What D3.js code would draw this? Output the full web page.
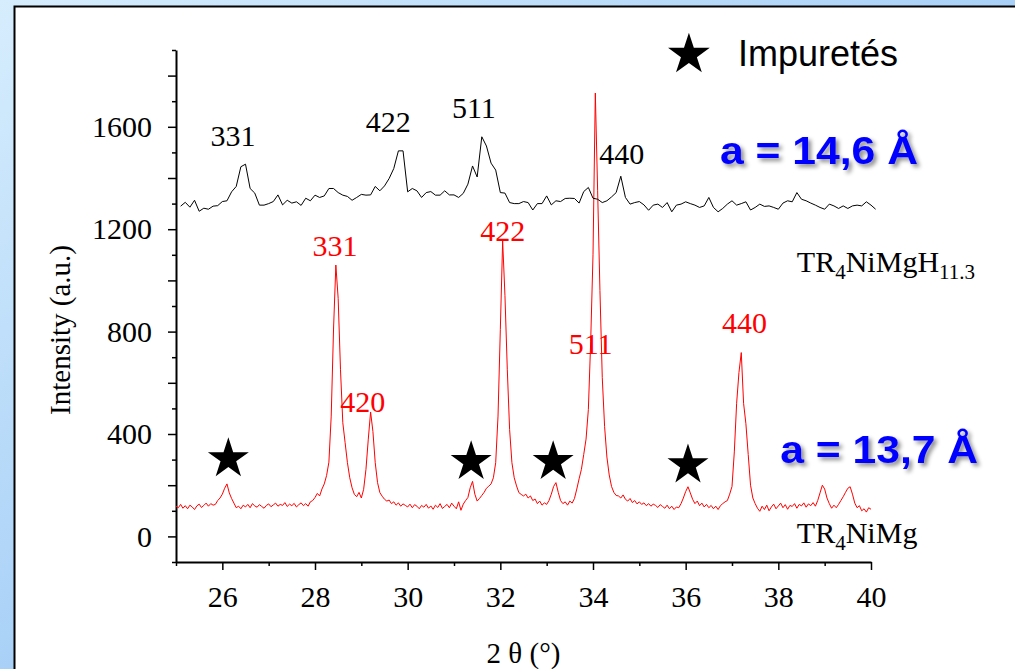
<!DOCTYPE html>
<html>
<head>
<meta charset="utf-8">
<script src="https://cdn.jsdelivr.net/npm/d3@7/dist/d3.min.js"></script>
<style>
  html, body { margin: 0; padding: 0; background: #fff; }
  svg { display: block; }
</style>
</head>
<body>
<div id="graph-content"></div>
<script>
// x axis: 2 theta (deg), y axis: intensity (a.u.)
const xTickValues = [26, 28, 30, 32, 34, 36, 38, 40];
const yTickValues = [0, 400, 800, 1200, 1600];

// TR4NiMg pattern (red), one count every 0.05 deg from 25.00
const alloyStart = 25.0;
const alloyStep = 0.05;
const alloyCounts = [
  118,112,125,110,120,108,122,115,105,119,
  126,113,121,130,118,128,122,125,140,150,
  165,188,205,170,148,130,112,118,108,122,
  115,125,112,128,119,114,124,117,110,121,
  127,116,123,130,118,125,121,132,117,126,
  120,129,115,124,131,120,128,118,135,140,
  152,168,158,185,205,238,290,470,810,1060,
  930,653,444,366,288,229,190,164,155,172,
  150,184,262,380,486,410,288,210,171,157,
  145,138,142,128,135,122,131,118,127,121,
  115,126,112,124,118,108,121,114,125,110,
  119,106,122,113,128,109,117,125,112,130,
  118,108,135,102,126,140,152,190,215,165,
  138,148,160,172,188,196,205,229,288,470,
  809,1154,940,653,418,288,229,197,171,164,
  158,165,150,158,140,146,128,138,122,131,
  125,140,165,195,210,172,140,128,135,122,
  138,130,148,185,225,262,320,380,496,760,
  1100,1732,1350,960,620,430,310,240,195,172,
  160,158,150,162,145,138,148,132,140,127,
  135,125,131,120,128,118,126,121,113,124,
  117,110,122,108,118,105,115,112,128,150,
  175,194,170,145,128,138,120,130,115,125,
  112,121,108,118,105,120,128,135,140,165,
  195,330,520,640,718,520,440,320,200,150,
  128,110,98,118,105,122,100,115,126,108,
  119,130,112,124,106,121,117,128,110,125,
  119,131,114,127,120,132,118,140,170,200,
  185,150,128,110,122,112,125,140,155,172,
  188,194,165,130,112,120,100,108,95,112,
  106
];

// TR4NiMgH11.3 pattern (black), one count every 0.1 deg from 25.1
const hydrideStart = 25.1;
const hydrideStep = 0.1;
const hydrideCounts = [
  1290,1305,1286,1313,1270,1282,1278,1290,1292,1308,
  1311,1346,1367,1444,1454,1359,1341,1294,1294,1300,
  1308,1334,1295,1313,1302,1307,1293,1321,1311,1333,
  1324,1330,1359,1359,1343,1333,1328,1313,1324,1336,
  1333,1334,1367,1350,1369,1398,1437,1506,1506,1346,
  1359,1350,1324,1343,1347,1333,1333,1350,1334,1334,
  1324,1340,1376,1447,1404,1561,1525,1458,1431,1343,
  1341,1304,1300,1300,1308,1304,1275,1300,1300,1330,
  1295,1311,1308,1320,1321,1320,1302,1347,1363,1321,
  1317,1304,1311,1326,1343,1407,1324,1298,1304,1308,
  1295,1274,1294,1298,1285,1304,1268,1294,1298,1307,
  1300,1294,1285,1291,1324,1285,1268,1281,1298,1311,
  1294,1300,1307,1275,1285,1298,1289,1291,1285,1278,
  1302,1311,1307,1343,1317,1311,1302,1294,1285,1278,
  1298,1291,1281,1291,1281,1291,1294,1291,1307,1294,
  1278
];

// hkl indexing of the peaks (label anchor in 2theta / intensity)
const hydrideHkl = ["331", "422", "511", "440"];
const hydrideHklX = [26.23, 29.58, 31.43, 34.62];
const hydrideHklY = [1526, 1578, 1633, 1454];

const alloyHkl = ["331", "420", "422", "511", "440"];
const alloyHklX = [28.43, 29.03, 32.05, 33.95, 37.27];
const alloyHklY = [1094, 486, 1153, 711, 796];

// impurity peaks marked with a star
const impurityX = [26.13, 31.37, 33.14, 36.05];
const impurityY = [303, 292, 292, 279];

const latticeText = ["a = 14,6 Å", "a = 13,7 Å"];
const latticeX = [36.74, 38.04];
const latticeY = [1454, 288];

const legendText = "Impuretés";

let margin = {top: 50, right: 144, bottom: 107, left: 176}
  , fullWidth = 1015, fullHeight = 669
  , width = fullWidth - margin.left - margin.right
  , height = fullHeight - margin.top - margin.bottom;

let serif = "'Liberation Serif', 'Times New Roman', serif";
let sans = "'Liberation Sans', Arial, sans-serif";

let xScale = d3.scaleLinear().domain([25, 40]).range([0, width]);
let yScale = d3.scaleLinear().domain([-100, 1900]).range([height, 0]);

let alloyData = alloyCounts.map((c, i) => ({x: alloyStart + i * alloyStep, y: c}));
let hydrideData = hydrideCounts.map((c, i) => ({x: hydrideStart + i * hydrideStep, y: c}));

let line = d3.line()
  .x(d => xScale(d.x))
  .y(d => yScale(d.y));

let root = d3.select("#graph-content").append("svg")
  .attr("width", fullWidth)
  .attr("height", fullHeight);

let defs = root.append("defs");
let grad = defs.append("linearGradient").attr("id", "bg")
  .attr("x1", 0).attr("y1", 0).attr("x2", 1).attr("y2", 1);
grad.append("stop").attr("offset", "0%").attr("stop-color", "#d6edfd");
grad.append("stop").attr("offset", "50%").attr("stop-color", "#a9d1f7");
grad.append("stop").attr("offset", "100%").attr("stop-color", "#7db6ee");

let shadow = defs.append("filter").attr("id", "shadow")
  .attr("x", "-10%").attr("y", "-30%").attr("width", "130%").attr("height", "170%");
shadow.append("feDropShadow")
  .attr("dx", 3).attr("dy", 3).attr("stdDeviation", 2)
  .attr("flood-color", "#000").attr("flood-opacity", 0.45);

// blue frame and white panel
root.append("rect").attr("width", fullWidth).attr("height", fullHeight).attr("fill", "url(#bg)");
root.append("rect")
  .attr("x", 14.5).attr("y", 6.5)
  .attr("width", fullWidth + 20).attr("height", fullHeight + 20)
  .attr("fill", "#fff").attr("stroke", "#000").attr("stroke-width", 2);

let svg = root.append("g")
  .attr("transform", "translate(" + margin.left + "," + margin.top + ")");

// x axis
let xAxis = svg.append("g")
  .attr("transform", "translate(0," + height + ")")
  .call(d3.axisBottom(xScale)
    .tickValues(d3.range(25, 41, 1))
    .tickSizeOuter(0)
    .tickFormat(d => xTickValues.includes(d) ? d : ""));
xAxis.select(".domain").attr("stroke-width", 2);
xAxis.selectAll(".tick line")
  .attr("stroke-width", 1.5)
  .attr("y2", d => d % 2 === 0 ? 8 : 4);
xAxis.selectAll(".tick text")
  .attr("y", 24)
  .attr("font-family", serif)
  .attr("font-size", 30)
  .attr("fill", "#000");

// y axis
let yAxis = svg.append("g")
  .call(d3.axisLeft(yScale)
    .tickValues(d3.range(-100, 2000, 100))
    .tickSizeOuter(0)
    .tickFormat(d => yTickValues.includes(d) ? d : ""));
yAxis.select(".domain").attr("stroke-width", 2);
yAxis.selectAll(".tick line")
  .attr("stroke-width", 1.5)
  .attr("x2", d => d % 200 === 0 ? -8 : -4);
yAxis.selectAll(".tick text")
  .attr("x", -24)
  .attr("font-family", serif)
  .attr("font-size", 30)
  .attr("fill", "#000");

// axis titles
svg.append("text")
  .attr("transform", "translate(" + (-106) + "," + 280 + ") rotate(-90)")
  .attr("text-anchor", "middle")
  .attr("font-family", serif)
  .attr("font-size", 29)
  .text("Intensity (a.u.)");

svg.append("text")
  .attr("x", width / 2)
  .attr("y", height + 101)
  .attr("text-anchor", "middle")
  .attr("font-family", serif)
  .attr("font-size", 29)
  .text("2 θ (°)");

// patterns
svg.append("path")
  .datum(alloyData)
  .attr("fill", "none")
  .attr("stroke", "#ff0000")
  .attr("stroke-width", 1)
  .attr("d", line);

svg.append("path")
  .datum(hydrideData)
  .attr("fill", "none")
  .attr("stroke", "#000")
  .attr("stroke-width", 1)
  .attr("d", line);

// hkl labels
svg.selectAll(".hkl-h")
  .data(hydrideHkl)
  .enter().append("text")
  .attr("class", "hkl-h")
  .attr("x", (d, i) => xScale(hydrideHklX[i]))
  .attr("y", (d, i) => yScale(hydrideHklY[i]))
  .attr("text-anchor", "middle")
  .attr("font-family", serif)
  .attr("font-size", 30)
  .attr("fill", "#000")
  .text(d => d);

svg.selectAll(".hkl-a")
  .data(alloyHkl)
  .enter().append("text")
  .attr("class", "hkl-a")
  .attr("x", (d, i) => xScale(alloyHklX[i]))
  .attr("y", (d, i) => yScale(alloyHklY[i]))
  .attr("text-anchor", "middle")
  .attr("font-family", serif)
  .attr("font-size", 30)
  .attr("fill", "#ff0000")
  .text(d => d);

// impurity stars
let star = d3.symbol().type(d3.symbolStar).size(520);
svg.selectAll(".star")
  .data(impurityX)
  .enter().append("path")
  .attr("class", "star")
  .attr("transform", (d, i) => "translate(" + xScale(d) + "," + yScale(impurityY[i]) + ")")
  .attr("d", star)
  .attr("fill", "#000");

// legend
svg.append("path")
  .attr("transform", "translate(" + xScale(36.07) + "," + yScale(1882) + ")")
  .attr("d", d3.symbol().type(d3.symbolStar).size(540))
  .attr("fill", "#000");
svg.append("text")
  .attr("x", xScale(37.13))
  .attr("y", yScale(1838))
  .attr("font-family", sans)
  .attr("font-size", 36)
  .text(legendText);

// sample names
let hydrideName = svg.append("text")
  .attr("x", xScale(38.40))
  .attr("y", yScale(1034))
  .attr("font-family", serif)
  .attr("font-size", 30);
hydrideName.append("tspan").text("TR");
hydrideName.append("tspan").attr("font-size", 21).attr("dy", 7).text("4");
hydrideName.append("tspan").attr("dy", -7).text("NiMgH");
hydrideName.append("tspan").attr("font-size", 21).attr("dy", 7).text("11.3");

let alloyName = svg.append("text")
  .attr("x", xScale(38.40))
  .attr("y", yScale(-25))
  .attr("font-family", serif)
  .attr("font-size", 30);
alloyName.append("tspan").text("TR");
alloyName.append("tspan").attr("font-size", 21).attr("dy", 7).text("4");
alloyName.append("tspan").attr("dy", -7).text("NiMg");

// lattice parameters
svg.selectAll(".lattice")
  .data(latticeText)
  .enter().append("text")
  .attr("class", "lattice")
  .attr("x", (d, i) => xScale(latticeX[i]))
  .attr("y", (d, i) => yScale(latticeY[i]))
  .attr("font-family", sans)
  .attr("font-weight", "bold")
  .attr("font-size", 39)
  .attr("textLength", 198)
  .attr("lengthAdjust", "spacingAndGlyphs")
  .attr("fill", "#0000ff")
  .attr("filter", "url(#shadow)")
  .text(d => d);
</script>
</body>
</html>
